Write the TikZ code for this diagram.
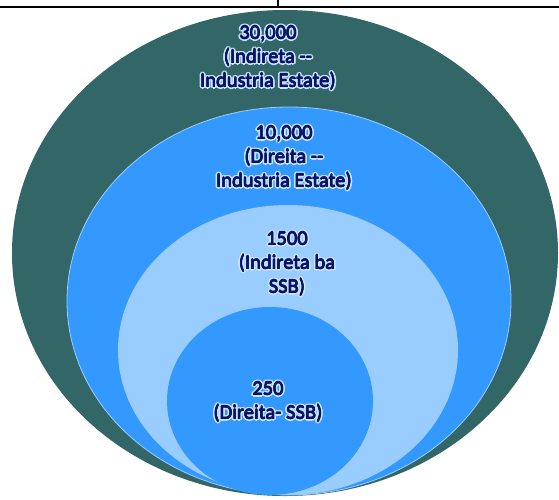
\documentclass[tikz,border=0pt]{standalone}
\usepackage{fontspec}
\setmainfont{Carlito}
\definecolor{outerteal}{HTML}{336666}
\definecolor{midblue}{HTML}{3399FF}
\definecolor{paleblue}{HTML}{99CCFF}
\definecolor{navytext}{HTML}{0A1466}
\definecolor{glowcol}{HTML}{C8E4FF}
\tikzset{
  lbl/.style={font=\fontsize{20.5}{24}\selectfont, text=navytext, align=center, inner sep=0pt},
  rim/.style={draw=paleblue, line width=0.8pt}
}
\newcommand\glowlabel[3]{%
  \foreach \a in {0,30,...,330}{\node[lbl, text=glowcol, shift={(\a:2pt)}] at (#2) {#3};}
  \foreach \a in {0,90,180,270}{\node[lbl, shift={(\a:0.35pt)}] at (#2) {#3};}
  \node[lbl] (#1) at (#2) {#3};}
\begin{document}
\begin{tikzpicture}[x=1pt,y=-1pt]
\useasboundingbox (0,0) rectangle (559,499);
\clip (0,0) rectangle (559,499);
% table fragment at top
\coordinate (tl) at (0,7);
\coordinate (tr) at (559,7);
\coordinate (vt) at (278,0);
\coordinate (vb) at (278,7);
\draw[line width=1.5pt] (tl) -- (tr);
\draw[line width=1.5pt] (vt) -- (vb);
% nested shapes
\fill[outerteal] (285,253) ellipse [x radius=273, y radius=243];
\fill[midblue, rim] (289,301) ellipse [x radius=222, y radius=194];
\fill[paleblue] (288,350) ellipse [x radius=170, y radius=145];
\fill[midblue] (270,401) ellipse [x radius=103, y radius=94];
% labels
\glowlabel{l30}{268,58}{30,000\\(Indireta -{}-\\Industria Estate)}
\glowlabel{l10}{284,158}{10,000\\(Direita -{}-\\Industria Estate)}
\glowlabel{l15}{287,264}{1500\\(Indireta ba\\SSB)}
\glowlabel{l25}{268,402}{250\\(Direita- SSB)}
\end{tikzpicture}
\end{document}
